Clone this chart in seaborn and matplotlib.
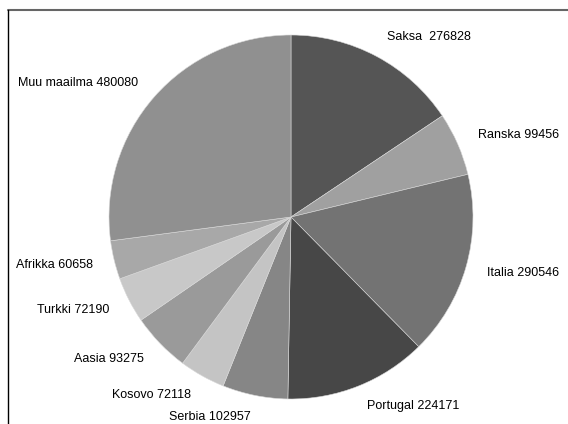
import matplotlib
matplotlib.use("Agg")
import matplotlib.pyplot as plt
import seaborn as sns
from matplotlib.lines import Line2D

# Tiedot
maat = ["Saksa ", "Ranska", "Italia", "Portugal", "Serbia", "Kosovo",
        "Aasia", "Turkki", "Afrikka", "Muu maailma"]
arvot = [276828, 99456, 290546, 224171, 102957, 72118, 93275, 72190, 60658, 480080]
harmaat = ["#555555", "#a0a0a0", "#737373", "#474747", "#868686", "#c4c4c4",
           "#9a9a9a", "#c8c8c8", "#a8a8a8", "#909090"]

sns.set_theme(style="white")
plt.rcParams["font.family"] = ["Liberation Sans", "DejaVu Sans"]

fig = plt.figure(figsize=(5.68, 4.24), dpi=100)
r_px = 182
cx, cy = 291, 217
ax = fig.add_axes([(cx - r_px) / 568, (424 - cy - r_px) / 424, 2 * r_px / 568, 2 * r_px / 424])

nimet = [f"{m} {a}" for m, a in zip(maat, arvot)]
wedges, texts = ax.pie(arvot, labels=nimet, colors=harmaat, startangle=90,
                       counterclock=False, labeldistance=1.12,
                       wedgeprops=dict(edgecolor="#d8d8d8", linewidth=0.4),
                       textprops=dict(fontsize=9, color="black"))
ax.set_xlim(-1, 1)
ax.set_ylim(-1, 1)
ax.axis("off")

# kaavion kehys (ylä- ja vasen reuna)
fig.add_artist(Line2D([7.5 / 568, 1], [1 - 9.5 / 424, 1 - 9.5 / 424],
                      transform=fig.transFigure, color="#666666", linewidth=1.5))
fig.add_artist(Line2D([7.5 / 568, 7.5 / 568], [0, 1 - 9.5 / 424],
                      transform=fig.transFigure, color="black", linewidth=1.0))

fig.savefig("out.png", dpi=100, facecolor="white")
